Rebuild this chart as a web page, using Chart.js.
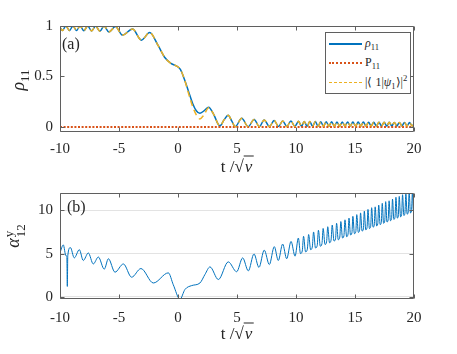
<!DOCTYPE html>
<html>
<head>
<meta charset="utf-8">
<script src="https://cdn.jsdelivr.net/npm/chart.js@4.4.0/dist/chart.umd.min.js"></script>
<style>
body{margin:0;background:#fff;}
#wrap{position:relative;width:457px;height:354px;overflow:hidden;font-family:'Liberation Serif','Times New Roman',serif;color:#262626;}
canvas{position:absolute;left:0;}
.lbl{position:absolute;white-space:nowrap;line-height:1;}
.rot{transform:translate(-50%,-50%) rotate(-90deg);}
.ctr{transform:translate(-50%,-50%);}
sub,sup{font-size:72%;line-height:0;}
.it{font-style:italic;}
.ss{display:inline-block;vertical-align:middle;font-size:72%;line-height:0.95;text-align:left;margin-left:1px;}
.ss span{display:block;}
.ov{border-top:1px solid #262626;padding:0 1px;font-style:italic;}
#leg{position:absolute;left:325px;top:32px;width:84px;height:60px;border:1px solid #5f5f5f;background:#fff;font-size:12px;}
#leg .row{position:absolute;left:2px;height:14px;}
#leg .samp{position:absolute;left:1px;top:7px;width:33px;height:0;}
#leg .txt{position:absolute;left:37px;top:0;white-space:nowrap;}
</style>
</head>
<body>
<div id="wrap">
<canvas id="chartA" width="457" height="177" style="top:0"></canvas>
<canvas id="chartB" width="457" height="177" style="top:177px"></canvas>

<div class="lbl rot" style="left:18px;top:80px;font-size:18px;"><span class="it">ρ</span><sub>11</sub></div>
<div class="lbl ctr" style="left:237px;top:166px;font-size:17px;">t /√<span class="ov">v</span></div>
<div class="lbl" style="left:62px;top:36px;font-size:16px;">(a)</div>

<div class="lbl rot" style="left:15px;top:236px;font-size:18px;"><span class="it">α</span><span class="ss"><span>y</span><span>12</span></span></div>
<div class="lbl ctr" style="left:237px;top:333px;font-size:17px;">t /√<span class="ov">v</span></div>
<div class="lbl" style="left:67px;top:199px;font-size:16px;">(b)</div>

<div id="leg">
  <div class="row" style="top:3px"><span class="samp" style="border-top:2px solid #0072BD"></span><span class="txt"><span class="it">ρ</span><sub>11</sub></span></div>
  <div class="row" style="top:22px"><span class="samp" style="border-top:2px dotted #D95319"></span><span class="txt">P<sub>11</sub></span></div>
  <div class="row" style="top:42px"><span class="samp" style="border-top:1.5px dashed #EDB120"></span><span class="txt">|⟨ 1|<span class="it">ψ</span><sub>1</sub>⟩|<sup>2</sup></span></div>
</div>
</div>

<script>
// ticks
const xTicks = [-10, -5, 0, 5, 10, 15, 20];
const yTicksA = [0, 0.5, 1];
const yTicksB = [0, 5, 10];

// panel (a): populations
const tA = [-10, -9.8, -9.5, -9.2, -8.9, -8.6, -8.3, -7.98, -7.65, -7.32,
  -6.98, -6.62, -6.27, -5.85, -5.3, -4.7, -3.85, -3.1, -2.4, -1.7,
  -1.1, -0.6, -0.15, 0.2, 0.55, 0.9, 1.25, 1.55, 1.85, 2.2,
  2.6, 3.0, 3.55, 3.9, 4.25, 4.55, 4.85, 5.4, 5.95, 6.45,
  6.9, 7.3, 7.75, 8.15, 8.52, 8.87, 9.22, 9.57, 9.9, 10.22,
  10.46, 10.7, 10.94, 11.17, 11.4, 11.64, 11.87, 12.1, 12.33, 12.56,
  12.79, 13.02, 13.25, 13.47, 13.7, 13.92, 14.15, 14.37, 14.6, 14.82,
  15.05, 15.27, 15.49, 15.71, 15.93, 16.15, 16.37, 16.59, 16.81, 17.03,
  17.25, 17.47, 17.69, 17.9, 18.12, 18.33, 18.55, 18.76, 18.98, 19.19,
  19.41, 19.62, 19.84, 20];
const rho11 = [0.985, 0.955, 1.0, 0.955, 1.0, 0.955, 1.0, 0.953, 1.0, 0.95,
  1.0, 0.948, 1.0, 0.94, 0.995, 0.91, 0.97, 0.86, 0.935, 0.81,
  0.685, 0.63, 0.605, 0.57, 0.47, 0.35, 0.23, 0.16, 0.135, 0.16,
  0.195, 0.13, 0.01, 0.07, 0.115, 0.06, 0.003, 0.085, 0.003, 0.075,
  0.003, 0.07, 0.004, 0.065, 0.004, 0.06, 0.005, 0.058, 0.005, 0.056,
  0.006, 0.055, 0.006, 0.054, 0.007, 0.053, 0.007, 0.052, 0.007, 0.052,
  0.008, 0.051, 0.008, 0.05, 0.008, 0.05, 0.008, 0.049, 0.009, 0.049,
  0.009, 0.048, 0.009, 0.048, 0.009, 0.047, 0.01, 0.047, 0.01, 0.046,
  0.01, 0.046, 0.01, 0.046, 0.01, 0.045, 0.01, 0.045, 0.01, 0.045,
  0.01, 0.044, 0.01, 0.03];
const psi1 = [0.985, 0.955, 1.0, 0.955, 1.0, 0.955, 1.0, 0.953, 1.0, 0.95,
  1.0, 0.948, 1.0, 0.94, 0.995, 0.91, 0.97, 0.86, 0.935, 0.81,
  0.685, 0.63, 0.605, 0.57, 0.47, 0.33, 0.2, 0.12, 0.08, 0.12,
  0.19, 0.13, 0.01, 0.07, 0.115, 0.06, 0.003, 0.085, 0.003, 0.075,
  0.003, 0.07, 0.004, 0.065, 0.004, 0.06, 0.005, 0.058, 0.005, 0.056,
  0.006, 0.055, 0.006, 0.054, 0.007, 0.053, 0.007, 0.052, 0.007, 0.052,
  0.008, 0.051, 0.008, 0.05, 0.008, 0.05, 0.008, 0.049, 0.009, 0.049,
  0.009, 0.048, 0.009, 0.048, 0.009, 0.047, 0.01, 0.047, 0.01, 0.046,
  0.01, 0.046, 0.01, 0.046, 0.01, 0.045, 0.01, 0.045, 0.01, 0.045,
  0.01, 0.044, 0.01, 0.03];
const tP = [-10, 20];
const p11 = [0, 0];

// panel (b): alpha^y_12
const tB = [-10, -9.72, -9.5, -9.42, -9.38, -9.34, -9.12, -8.79, -8.36, -8.03,
  -7.6, -7.18, -6.75, -6.25, -5.9, -5.34, -4.63, -3.93, -3.14, -2.09,
  -0.82, -0.4, 0.17, 0.59, 1.16, 1.86, 2.29, 2.71, 3.42, 4.26,
  4.97, 5.48, 5.96, 6.44, 6.86, 7.31, 7.74, 8.16, 8.5, 8.87,
  9.21, 9.58, 9.92,
  10.2, 10.38, 10.53, 10.64, 10.81, 10.96, 11.07, 11.24, 11.38,
  11.49, 11.65, 11.8, 11.9, 12.06, 12.2, 12.3, 12.46, 12.59,
  12.69, 12.84, 12.97, 13.07, 13.22, 13.35, 13.44, 13.58, 13.71,
  13.8, 13.94, 14.06, 14.15, 14.29, 14.41, 14.49, 14.62, 14.74,
  14.82, 14.95, 15.07, 15.15, 15.28, 15.39, 15.47, 15.6, 15.71,
  15.79, 15.91, 16.02, 16.1, 16.22, 16.33, 16.41, 16.53, 16.63,
  16.71, 16.83, 16.93, 17.01, 17.13, 17.23, 17.31, 17.42, 17.52,
  17.6, 17.71, 17.81, 17.89, 18.0, 18.1, 18.18, 18.29, 18.39,
  18.47, 18.58, 18.67, 18.75, 18.86, 18.95, 19.03, 19.14, 19.23,
  19.31, 19.42, 19.51, 19.59, 19.7, 19.79, 19.87, 19.96, 20.0];
const alpha12 = [5.1, 6.0, 4.75, 4.7, 1.2, 4.75, 5.7, 4.5, 5.45, 4.2,
  5.07, 3.8, 4.6, 3.2, 4.4, 2.85, 3.8, 2.27, 3.27, 1.6,
  2.77, 1.4, -0.3, 0.85, 1.3, 1.6, 2.6, 3.46, 2.0, 4.04,
  2.9, 4.5, 3.0, 4.96, 3.4, 5.4, 3.73, 5.8, 4.2, 6.1,
  4.4, 6.4, 4.7,
  6.8, 5.0, 5.3, 7.0, 5.2, 5.5, 7.2, 5.45, 5.75,
  7.5, 5.65, 5.95, 7.7, 5.85, 6.15, 7.9, 6.05, 6.35,
  8.1, 6.25, 6.55, 8.3, 6.45, 6.7, 8.5, 6.6, 6.9,
  8.7, 6.8, 7.05, 8.9, 6.95, 7.25, 9.1, 7.15, 7.4,
  9.3, 7.3, 7.55, 9.5, 7.45, 7.7, 9.7, 7.6, 7.85,
  9.9, 7.75, 8.0, 10.1, 7.9, 8.15, 10.3, 8.05, 8.3,
  10.4, 8.2, 8.45, 10.6, 8.35, 8.6, 10.8, 8.5, 8.75,
  11.0, 8.65, 8.9, 11.1, 8.8, 9.05, 11.3, 8.95, 9.2,
  11.5, 9.1, 9.35, 11.6, 9.25, 9.5, 11.8, 9.4, 9.65,
  11.9, 9.55, 9.8, 12.1, 9.7, 9.95, 12.2, 9.85, 10.0];

function pts(xs, ys) {
    return xs.map(function(x, i) { return {x: x, y: ys[i]}; });
}

// box around the axes with the ticks drawn inwards, like MATLAB
const framePlugin = {
    id: 'frame',
    afterDatasetsDraw(chart) {
        const ctx = chart.ctx;
        const a = chart.chartArea;
        const x = chart.scales.x, y = chart.scales.y;
        const L = Math.round(a.left) + 0.5, R = Math.round(a.right) - 0.5;
        const T = Math.round(a.top) + 0.5, B = Math.round(a.bottom) - 0.5;
        ctx.save();
        ctx.strokeStyle = '#5f5f5f';
        ctx.lineWidth = 1;
        ctx.beginPath();
        x.ticks.forEach(function(t) {
            const p = Math.round(x.getPixelForValue(t.value)) + 0.5;
            ctx.moveTo(p, B); ctx.lineTo(p, B - 4);
            ctx.moveTo(p, T); ctx.lineTo(p, T + 4);
        });
        y.ticks.forEach(function(t) {
            const p = Math.round(y.getPixelForValue(t.value)) + 0.5;
            ctx.moveTo(L, p); ctx.lineTo(L + 4, p);
            ctx.moveTo(R, p); ctx.lineTo(R - 4, p);
        });
        ctx.rect(L, T, R - L, B - T);
        ctx.stroke();
        ctx.restore();
    }
};

function axes(ymin, ymax, yTicks, yGrid, xPad, xHeight) {
    return {
        x: {
            type: 'linear', min: -10, max: 20,
            afterBuildTicks: function(s) { s.ticks = xTicks.map(function(v) { return {value: v}; }); },
            afterFit: function(s) { s.height = xHeight; },
            grid: {display: false, drawTicks: false},
            border: {display: false},
            ticks: {color: '#262626', padding: xPad, font: {family: 'Liberation Serif', size: 15}, maxRotation: 0,
                    callback: function(v) { return String(v); }}
        },
        y: {
            type: 'linear', min: ymin, max: ymax,
            afterBuildTicks: function(s) { s.ticks = yTicks.map(function(v) { return {value: v}; }); },
            afterFit: function(s) { s.width = 60; },
            grid: {display: yGrid, color: '#e3e3e3', drawTicks: false},
            border: {display: false},
            ticks: {color: '#262626', padding: 7, font: {family: 'Liberation Serif', size: 15},
                    callback: function(v) { return String(v); }}
        }
    };
}

const common = {
    responsive: false,
    animation: false,
    events: [],
    plugins: {legend: {display: false}, tooltip: {enabled: false}}
};

new Chart(document.getElementById('chartA').getContext('2d'), {
    type: 'line',
    data: {
        datasets: [
            {
                label: 'ρ11', data: pts(tA, rho11), order: 2,
                borderColor: '#0072BD', borderWidth: 1.5, pointRadius: 0,
                cubicInterpolationMode: 'monotone'
            },
            {
                label: 'P11', data: pts(tP, p11), order: 1,
                borderColor: '#D95319', borderWidth: 2, borderDash: [2, 1.6], pointRadius: 0
            },
            {
                label: '|<1|psi1>|^2', data: pts(tA, psi1), order: 0,
                borderColor: '#EDB120', borderWidth: 1.5, borderDash: [6, 4], pointRadius: 0,
                cubicInterpolationMode: 'monotone'
            }
        ]
    },
    options: Object.assign({}, common, {
        layout: {padding: {top: 26, right: 43, left: 0, bottom: 0}},
        scales: axes(-0.05, 1, yTicksA, false, 8, 45)
    }),
    plugins: [framePlugin]
});

new Chart(document.getElementById('chartB').getContext('2d'), {
    type: 'line',
    data: {
        datasets: [{
            label: 'alpha12', data: pts(tB, alpha12),
            borderColor: '#0072BD', borderWidth: 1, pointRadius: 0,
            cubicInterpolationMode: 'monotone'
        }]
    },
    options: Object.assign({}, common, {
        layout: {padding: {top: 16, right: 43, left: 0, bottom: 0}},
        scales: axes(-0.25, 12, yTicksB, true, 10, 55)
    }),
    plugins: [framePlugin]
});
</script>
</body>
</html>
